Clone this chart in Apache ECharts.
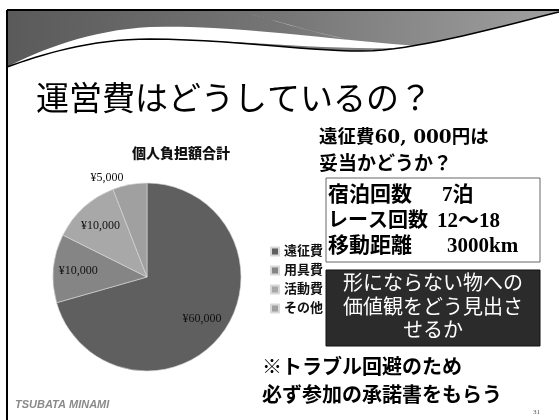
<!DOCTYPE html>
<html><head><meta charset="utf-8">
<script src="https://cdn.jsdelivr.net/npm/echarts@6/dist/echarts.min.js"></script>
<style>html,body{margin:0;padding:0;background:#fff}#c{width:559px;height:420px}</style>
</head><body><div id="c"></div>
<script>
const categories = ['遠征費', '用具費', '活動費', 'その他'];
const values = [60000, 10000, 10000, 5000];
const sliceColors = ['#5f5f5f', '#858585', '#a8a8a8', '#a0a0a0'];
const chartTitle = '個人負担額合計';
const slideTitle = '運営費はどうしているの？';

const fmt = v => '¥' + v.toLocaleString('en-US');
const serif = '"Liberation Serif", "DejaVu Serif", "Noto Sans CJK JP", serif';
const wideSerif = '"DejaVu Serif", "Noto Sans CJK JP", serif';
const cjk = '"Noto Sans CJK JP", sans-serif';

// decoration helper: sample a chain of cubic bezier segments into points
function curve(start, segs) {
  const pts = [start];
  let p0 = start;
  segs.forEach(s => {
    const [c1, c2, p3] = s;
    for (let k = 1; k <= 16; k++) {
      const t = k / 16, u = 1 - t;
      pts.push([
        u*u*u*p0[0] + 3*u*u*t*c1[0] + 3*u*t*t*c2[0] + t*t*t*p3[0],
        u*u*u*p0[1] + 3*u*u*t*c1[1] + 3*u*t*t*c2[1] + t*t*t*p3[1]
      ]);
    }
    p0 = p3;
  });
  return pts;
}
const waveLine = curve([7, 67], [[[40, 55], [90, 39], [150, 39]], [[250, 40], [330, 55], [383, 50]], [[440, 44], [510, 24], [559, 12]]]);
const swooshTop = curve([7, 67], [[[40, 50], [90, 30], [150, 27]], [[230, 24], [330, 40], [430, 47]]]);
const swooshBottom = curve([430, 47], [[[330, 52], [250, 40], [150, 39]], [[90, 39], [40, 55], [7, 67]]]);
const bandPts = [[7, 10], [559, 10]].concat(waveLine.slice().reverse());
const glint = curve([243, 12], [[[280, 22], [310, 32], [360, 42]], [[320, 34], [290, 25], [243, 12]]]);

const mainData = categories.map((n, i) => ({
  name: n, value: values[i], itemStyle: { color: sliceColors[i] },
  label: i === 3 ? { show: true, position: 'outside' } : { show: false },
  labelLine: { show: false, length: 7, length2: 0 }
}));
const labelData = categories.map((n, i) => ({
  name: n, value: values[i],
  label: { show: i !== 3 }
}));

function txt(text, x, y, font, fill, align) {
  return { type: 'text', silent: true, z: 10, style: { text, x, y, font, fill: fill || '#000', textAlign: align || 'left', textVerticalAlign: 'middle' } };
}

const chart = echarts.init(document.getElementById('c'), null, { renderer: 'canvas' });
chart.setOption({
  animation: false,
  backgroundColor: '#fff',
  title: {
    text: chartTitle, left: 127, top: 141,
    textStyle: { fontFamily: cjk, fontWeight: 900, fontSize: 14, color: '#111' }
  },
  legend: {
    orient: 'vertical', left: 265, top: 240, data: categories,
    icon: 'rect', itemWidth: 8, itemHeight: 8, itemGap: 6, selectedMode: false,
    textStyle: { fontFamily: serif, fontWeight: 'bold', fontSize: 13, color: '#111' }
  },
  series: [{
    type: 'pie', silent: true, center: [147, 277], radius: 94, startAngle: 90, clockwise: true,
    itemStyle: { borderColor: '#d8d8d8', borderWidth: 0.6 },
    label: { formatter: p => fmt(p.value), fontFamily: serif, fontSize: 12, color: '#111', align: 'center' },
    data: mainData
  }, {
    type: 'pie', silent: true, center: [147, 277], radius: [38, 94], startAngle: 90, clockwise: true,
    itemStyle: { color: 'rgba(0,0,0,0)' },
    label: { position: 'inside', formatter: p => fmt(p.value), fontFamily: serif, fontSize: 12, color: '#111' },
    labelLine: { show: false },
    data: labelData
  }],
  graphic: [
    { type: 'polygon', silent: true, z: 1, shape: { points: bandPts },
      style: { fill: { type: 'linear', x: 0, y: 0, x2: 1, y2: 0.3, colorStops: [{ offset: 0, color: '#5a5a5a' }, { offset: 0.5, color: '#767676' }, { offset: 1, color: '#a0a0a0' }] } } },
    { type: 'polygon', silent: true, z: 2, shape: { points: swooshTop.concat(swooshBottom) }, style: { fill: '#ffffff' } },
    { type: 'polygon', silent: true, z: 2, shape: { points: glint }, style: { fill: '#f4f4f4' } },
    { type: 'polyline', silent: true, z: 3, shape: { points: waveLine }, style: { stroke: '#000', lineWidth: 1.5 } },
    { type: 'line', silent: true, z: 4, shape: { x1: 7, y1: 10, x2: 559, y2: 10 }, style: { stroke: '#000', lineWidth: 2 } },
    { type: 'line', silent: true, z: 4, shape: { x1: 7, y1: 10, x2: 7, y2: 420 }, style: { stroke: '#000', lineWidth: 2 } },

    txt(slideTitle, 36, 97, 'normal 33px ' + cjk, '#000'),

    txt('遠征費60, 000円は', 319, 138, 'bold 18.5px ' + wideSerif),
    txt('妥当かどうか？', 319, 165, 'bold 19px ' + serif),

    { type: 'rect', silent: true, z: 5, shape: { x: 326, y: 178, width: 214, height: 84 }, style: { fill: '#fff', stroke: '#666', lineWidth: 1 } },
    txt('宿泊回数', 328, 196, 'bold 21px ' + serif),
    txt('7泊', 442, 196, 'bold 21px ' + serif),
    txt('レース回数', 328, 222, 'bold 20px ' + serif),
    txt('12～18', 437, 222, 'bold 21px ' + serif),
    txt('移動距離', 328, 247, 'bold 21px ' + serif),
    txt('3000km', 447, 247, 'bold 21px ' + serif),

    { type: 'rect', silent: true, z: 5, shape: { x: 326, y: 270, width: 214, height: 76 }, style: { fill: '#2b2b2b', stroke: '#111', lineWidth: 1 } },
    txt('形にならない物への', 433, 285, 'normal 20px ' + serif, '#fff', 'center'),
    txt('価値観をどう見出さ', 433, 309, 'normal 20px ' + serif, '#fff', 'center'),
    txt('せるか', 433, 332, 'normal 20px ' + serif, '#fff', 'center'),

    txt('※トラブル回避のため', 262, 369, 'bold 20px ' + serif),
    txt('必ず参加の承諾書をもらう', 262, 397, 'bold 20px ' + serif),

    txt('TSUBATA MINAMI', 15, 405, 'italic bold 11px "Liberation Sans", sans-serif', '#8a8a8a'),
    txt('31', 533, 412, 'normal 7px ' + serif, '#555')
  ]
});
</script></body></html>
